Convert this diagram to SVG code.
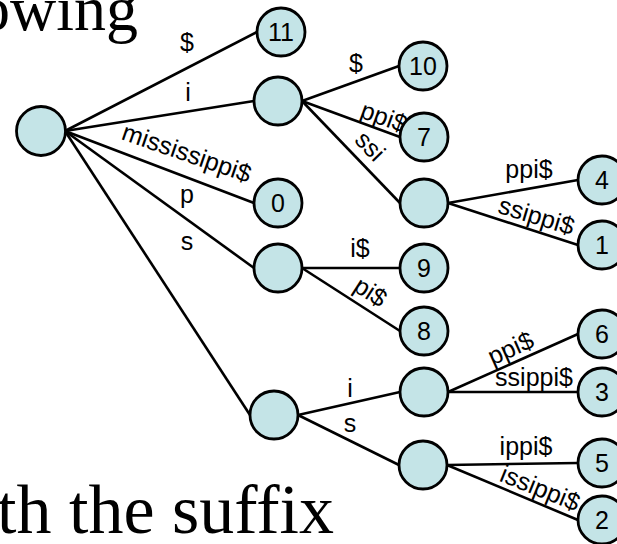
<svg xmlns="http://www.w3.org/2000/svg" width="617" height="544" viewBox="0 0 617 544">
<style>
.n{fill:#c4e4e7;stroke:#000;stroke-width:2.8}
.e{stroke:#000;stroke-width:2.6;fill:none}
.t{font-family:"Liberation Sans",Arial,sans-serif;font-size:25px;fill:#000;text-anchor:middle}
.bg{font-family:"Liberation Serif","Times New Roman",serif;fill:#000;text-anchor:end}
</style>
<rect width="617" height="544" fill="#fff"/>
<text class="bg" x="138" y="30" font-size="64">owing</text>
<text class="bg" x="334" y="533" font-size="70">th the suffix</text>
<g id="connectors">
<line class="e" x1="65" y1="131" x2="257" y2="32"/>
<line class="e" x1="65" y1="131" x2="254" y2="101"/>
<line class="e" x1="65" y1="131" x2="254" y2="203"/>
<line class="e" x1="65" y1="131" x2="254" y2="268"/>
<line class="e" x1="65" y1="131" x2="250" y2="415"/>
<line class="e" x1="302" y1="101" x2="399" y2="66"/>
<line class="e" x1="302" y1="101" x2="400" y2="137"/>
<line class="e" x1="302" y1="101" x2="400" y2="203"/>
<line class="e" x1="448" y1="203" x2="578" y2="180"/>
<line class="e" x1="448" y1="203" x2="578" y2="245"/>
<line class="e" x1="302" y1="268" x2="400" y2="268"/>
<line class="e" x1="302" y1="268" x2="400" y2="331"/>
<line class="e" x1="298" y1="415" x2="400" y2="392"/>
<line class="e" x1="298" y1="415" x2="399" y2="465"/>
<line class="e" x1="448" y1="392" x2="578" y2="334"/>
<line class="e" x1="448" y1="392" x2="578" y2="392"/>
<line class="e" x1="447" y1="465" x2="578" y2="463"/>
<line class="e" x1="447" y1="465" x2="578" y2="520"/>
<text class="t" x="187" y="51">$</text>
<text class="t" x="188" y="101">i</text>
<text class="t" transform="translate(184,161) rotate(19)">mississippi$</text>
<text class="t" x="187" y="203">p</text>
<text class="t" x="187" y="250">s</text>
<text class="t" x="356" y="72">$</text>
<text class="t" transform="translate(381,125) rotate(20)">ppi$</text>
<text class="t" transform="translate(364,152) rotate(46)">ssi</text>
<text class="t" x="529" y="178">ppi$</text>
<text class="t" transform="translate(534,224) rotate(17)">ssippi$</text>
<text class="t" x="360" y="257">i$</text>
<text class="t" transform="translate(366,299) rotate(33)">pi$</text>
<text class="t" x="350" y="397">i</text>
<text class="t" x="350" y="432">s</text>
<text class="t" transform="translate(514,356) rotate(-24)">ppi$</text>
<text class="t" x="534" y="386">ssippi$</text>
<text class="t" x="526" y="455">ippi$</text>
<text class="t" transform="translate(537,496) rotate(22)">issippi$</text>
</g>
<g id="root"><circle class="n" cx="41" cy="131" r="24.5"/></g>
<g id="n11"><circle class="n" cx="281" cy="32" r="24"/><text class="t" x="281" y="41">11</text></g>
<g id="ni"><circle class="n" cx="278" cy="101" r="24"/></g>
<g id="n10"><circle class="n" cx="423" cy="66" r="24"/><text class="t" x="423" y="75">10</text></g>
<g id="n7"><circle class="n" cx="424" cy="137" r="24"/><text class="t" x="424" y="146">7</text></g>
<g id="nssi"><circle class="n" cx="424" cy="203" r="24"/></g>
<g id="n4"><circle class="n" cx="602" cy="180" r="24"/><text class="t" x="602" y="189">4</text></g>
<g id="n1"><circle class="n" cx="602" cy="245" r="24"/><text class="t" x="602" y="254">1</text></g>
<g id="n0"><circle class="n" cx="278" cy="203" r="24"/><text class="t" x="278" y="212">0</text></g>
<g id="np"><circle class="n" cx="278" cy="268" r="24"/></g>
<g id="n9"><circle class="n" cx="424" cy="268" r="24"/><text class="t" x="424" y="277">9</text></g>
<g id="n8"><circle class="n" cx="424" cy="331" r="24"/><text class="t" x="424" y="340">8</text></g>
<g id="ns"><circle class="n" cx="274" cy="415" r="24"/></g>
<g id="nsi"><circle class="n" cx="424" cy="392" r="24"/></g>
<g id="nss"><circle class="n" cx="423" cy="465" r="24"/></g>
<g id="n6"><circle class="n" cx="602" cy="334" r="24"/><text class="t" x="602" y="343">6</text></g>
<g id="n3"><circle class="n" cx="602" cy="392" r="24"/><text class="t" x="602" y="401">3</text></g>
<g id="n5"><circle class="n" cx="602" cy="463" r="24"/><text class="t" x="602" y="472">5</text></g>
<g id="n2"><circle class="n" cx="602" cy="520" r="24"/><text class="t" x="602" y="529">2</text></g>
</svg>
